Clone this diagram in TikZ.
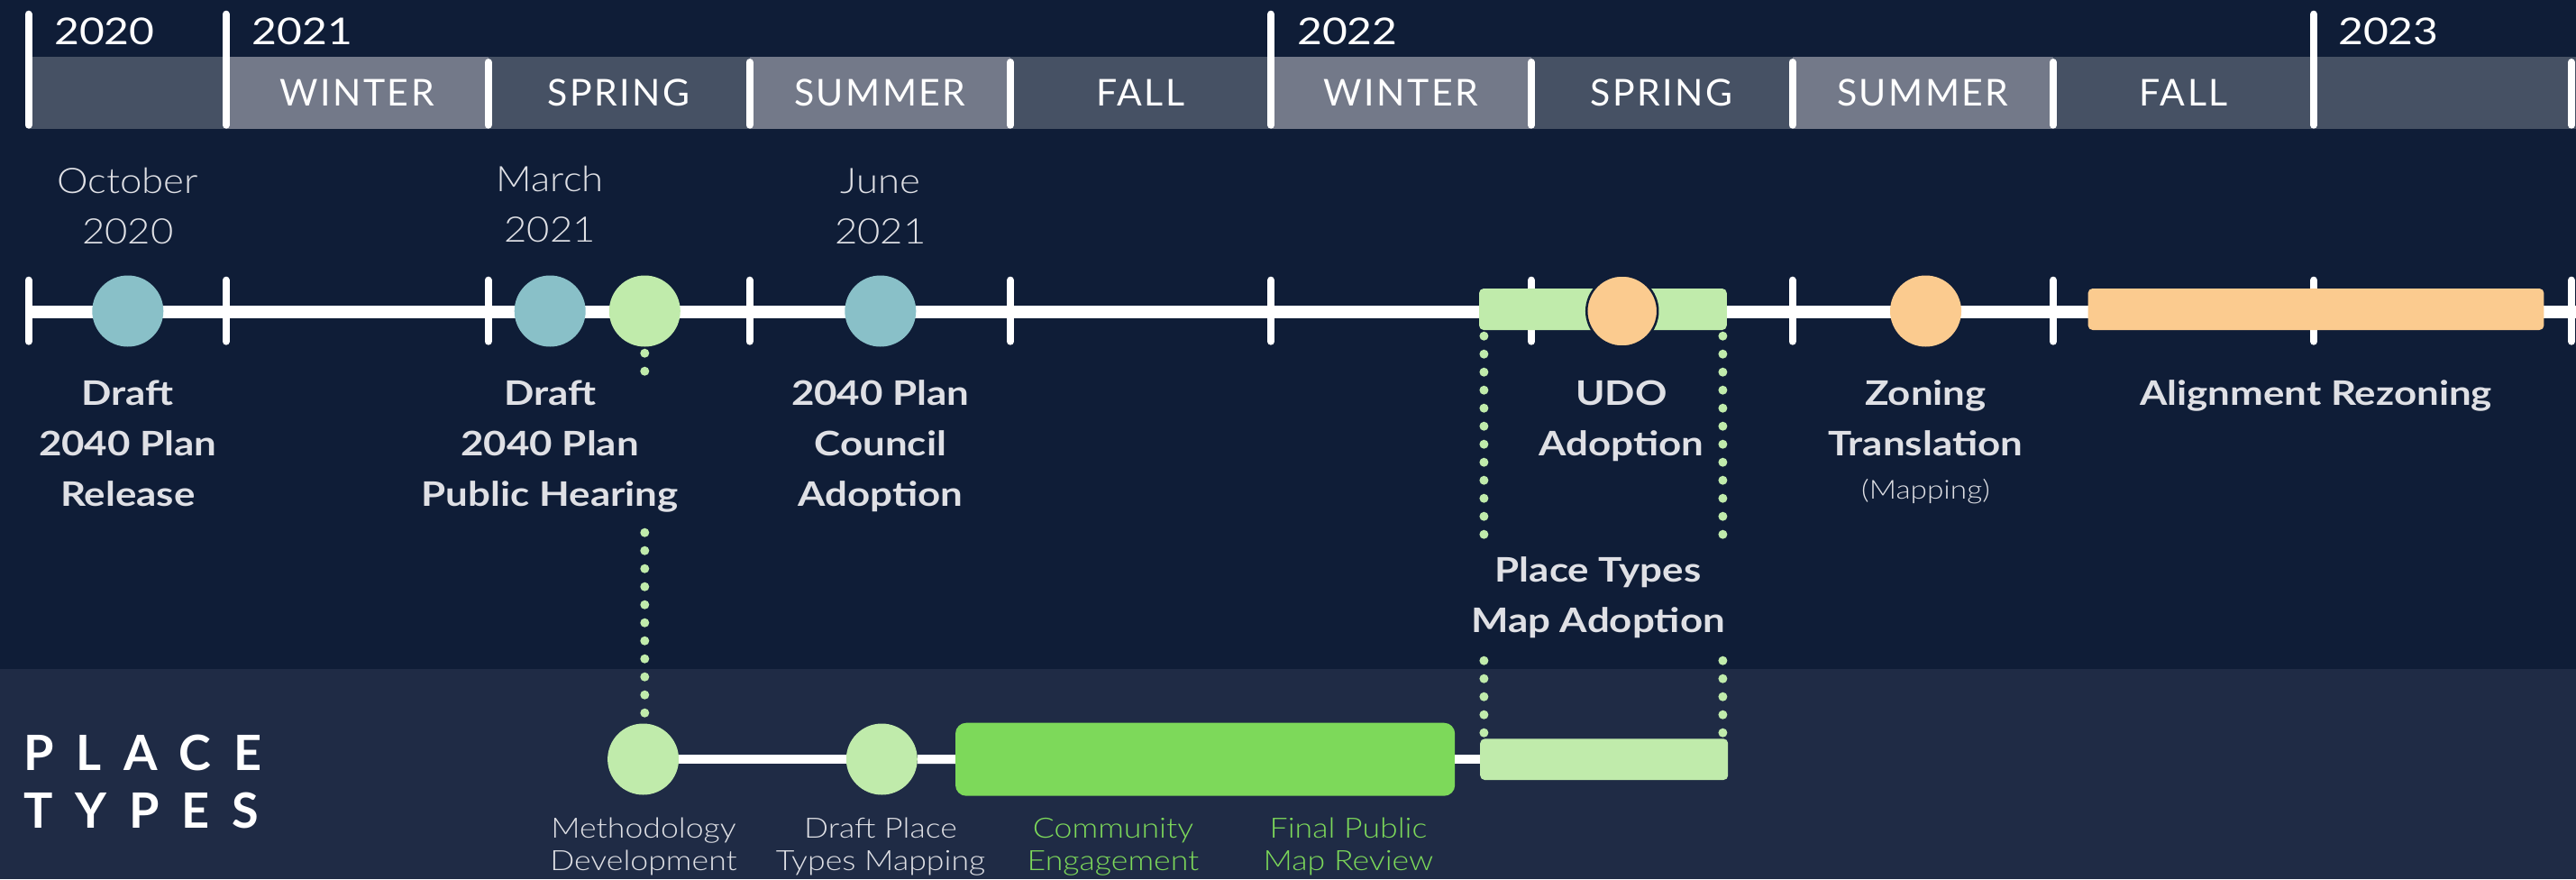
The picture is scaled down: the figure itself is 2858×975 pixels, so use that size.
\documentclass[tikz,border=0pt]{standalone}
\usepackage{fontspec}
\setmainfont{Lato}
\newfontfamily\latobold[FakeStretch=1.17]{Lato}
\newfontfamily\latoyear[FakeStretch=1.17]{Lato}
\newfontfamily\latolight[FakeStretch=1.12]{Lato Light}
\newfontfamily\latolightb[FakeStretch=1.15]{Lato Light}
\newfontfamily\latospaced[LetterSpace=6]{Lato}
\newfontfamily\latoheavy[LetterSpace=46]{Lato}
\definecolor{bgnavy}{HTML}{0F1D37}
\definecolor{bandc}{HTML}{1F2B45}
\definecolor{seglight}{HTML}{737989}
\definecolor{segdark}{HTML}{465164}
\definecolor{tealc}{HTML}{89C0C8}
\definecolor{lgreen}{HTML}{C0EBAB}
\definecolor{orangec}{HTML}{FBCB8F}
\definecolor{bgreen}{HTML}{7DD95A}
\definecolor{labelc}{HTML}{DFE0E5}
\newcommand\fbold{\latobold\fontsize{37.5}{45}\selectfont\bfseries}
\newcommand\fdate{\latolight\fontsize{39}{45}\selectfont}
\newcommand\fyear{\latoyear\fontsize{41}{45}\selectfont}
\newcommand\fseason{\latospaced\fontsize{41}{45}\selectfont}
\newcommand\fsmall{\latolightb\fontsize{31}{36}\selectfont}
\newcommand\fmap{\latolightb\fontsize{29}{32}\selectfont}
\newcommand\fplace{\latoheavy\bfseries\fontsize{54}{60}\selectfont}
\begin{document}
\begin{tikzpicture}[x=1pt,y=-1pt,
  yeartick/.style={draw=white,line width=8,line cap=round},
  axisline/.style={draw=white,line width=14},
  subline/.style={draw=white,line width=10},
  dotline/.style={draw=lgreen,line width=10,line cap=round,dash pattern=on 0pt off 20pt},
  season/.style={font=\fseason,text=white,anchor=base,inner sep=0},
  yearlbl/.style={font=\fyear,text=white,anchor=base west,inner sep=0},
  datelbl/.style={font=\fdate,text=labelc,anchor=base,inner sep=0},
  evlbl/.style={font=\fbold,text=labelc,anchor=base,inner sep=0},
  maplbl/.style={font=\fmap,text=labelc,anchor=base,inner sep=0},
  smalllbl/.style={font=\fsmall,text=labelc,anchor=base,inner sep=0},
  greenlbl/.style={font=\fsmall,text=bgreen,anchor=base,inner sep=0},
  placelbl/.style={font=\fplace,text=white,anchor=base west,inner sep=0},
  dotc/.style={circle,minimum size=79,inner sep=0,draw=none},
  barbox/.style={rectangle,inner sep=0,rounded corners=5,draw=none}]
\fill[bgnavy] (0,0) rectangle (2858,975);
\useasboundingbox (0,0) rectangle (2858,975);
\fill[bandc] (0,741.7) rectangle (2858,975);
% season bar
\foreach \a/\b/\col/\txt [count=\i] in {31.6/250.8/segdark/, 250.8/541.5/seglight/WINTER, 541.5/831.5/segdark/SPRING, 831.5/1121/seglight/SUMMER, 1121/1410/segdark/FALL, 1410/1699/seglight/WINTER, 1699/1988.5/segdark/SPRING, 1988.5/2278/seglight/SUMMER, 2278/2567/segdark/FALL, 2567/2858/segdark/}
  {\fill[\col] (\a,63.3) rectangle (\b,142.7);
   \node[season] (season\i) at ({(\a+\b)/2},117) {\txt};}
\foreach \x in {31.6,250.8,1410,2567}
  {\draw[yeartick] (\x,15.7) -- (\x,138.7);}
\foreach \x in {541.5,831.5,1121,1699,1988.5,2278,2853}
  {\draw[yeartick] (\x,69) -- (\x,138.7);}
\node[yearlbl] (y2020) at (60,49.5) {2020};
\node[yearlbl] (y2021) at (279.5,49.5) {2021};
\node[yearlbl] (y2022) at (1439,49.5) {2022};
\node[yearlbl] (y2023) at (2594,49.5) {2023};
% main axis
\draw[axisline] (31.6,345.5) -- (2858,345.5);
\foreach \x in {31.6,250.8,541.5,831.5,1121,1410,1699,1988.5,2278,2567,2853}
  {\draw[yeartick] (\x,310.7) -- (\x,378.7);}
% dates
\node[datelbl] (d1a) at (141.8,214) {October};
\node[datelbl] (d1b) at (141.8,270) {2020};
\node[datelbl] (d2a) at (610.2,212) {March};
\node[datelbl] (d2b) at (610.2,268) {2021};
\node[datelbl] (d3a) at (976.8,214) {June};
\node[datelbl] (d3b) at (976.8,270) {2021};
% milestones on axis
\node[dotc,fill=tealc] (oct) at (141.8,345) {};
\node[dotc,fill=tealc] (mar) at (610.2,345) {};
\node[dotc,fill=lgreen] (hear) at (715.3,345) {};
\node[dotc,fill=tealc] (jun) at (976.8,345) {};
\node[barbox,fill=lgreen,minimum width=274.7,minimum height=46] (udobox) at (1778.4,343) {};
\node[dotc,fill=orangec,draw=bgnavy,line width=2.5] (udo) at (1799.7,345) {};
\node[dotc,fill=orangec] (zon) at (2136.5,345) {};
\node[barbox,fill=orangec,minimum width=505.8,minimum height=46] (align) at (2569.5,343) {};
% event labels
\node[evlbl] (e1a) at (141.8,449.5) {Draft};
\node[evlbl] (e1b) at (141.8,505.5) {2040 Plan};
\node[evlbl] (e1c) at (141.8,561.5) {Release};
\node[evlbl] (e2a) at (610.2,449.5) {Draft};
\node[evlbl] (e2b) at (610.2,505.5) {2040 Plan};
\node[evlbl] (e2c) at (610.2,561.5) {Public Hearing};
\node[evlbl] (e3a) at (976.8,449.5) {2040 Plan};
\node[evlbl] (e3b) at (976.8,505.5) {Council};
\node[evlbl] (e3c) at (976.8,561.5) {Adoption};
\node[evlbl] (e4a) at (1799,449.5) {UDO};
\node[evlbl] (e4b) at (1799,505.5) {Adoption};
\node[evlbl] (e5a) at (2136.5,449.5) {Zoning};
\node[evlbl] (e5b) at (2136.5,505.5) {Translation};
\node[maplbl] (e5c) at (2136.5,553.3) {(Mapping)};
\node[evlbl] (e6a) at (2569.5,449.5) {Alignment Rezoning};
\node[evlbl] (e7a) at (1773,645) {Place Types};
\node[evlbl] (e7b) at (1773,701) {Map Adoption};
% place types track
\node[placelbl] (pl1) at (26,854) {PLACE};
\node[placelbl] (pl2) at (26,918.3) {TYPES};
\node[dotc,fill=lgreen] (meth) at (713.6,842) {};
\node[dotc,fill=lgreen] (dpt) at (978.3,842) {};
\node[barbox,fill=bgreen,rounded corners=12,minimum width=554.2,minimum height=81] (comm) at (1337.1,842.2) {};
\node[barbox,fill=lgreen,minimum width=275,minimum height=45.7] (ptmap) at (1779.7,842.2) {};
\draw[subline] (meth.east) -- (dpt.west);
\draw[subline] (dpt.east) -- (comm.west);
\draw[subline] (comm.east) -- (ptmap.west);
\node[smalllbl] (m1) at (714,929.5) {Methodology};
\node[smalllbl] (m2) at (714,965) {Development};
\node[smalllbl] (p1) at (977,929.5) {Draft Place};
\node[smalllbl] (p2) at (977,965) {Types Mapping};
\node[greenlbl] (c1) at (1235,929.5) {Community};
\node[greenlbl] (c2) at (1235,965) {Engagement};
\node[greenlbl] (f1) at (1496,929.5) {Final Public};
\node[greenlbl] (f2) at (1496,965) {Map Review};
% dotted links
\coordinate (h1) at (715.3,391.7);
\coordinate (h2) at (715.3,412.2);
\coordinate (h3) at (715.3,590.7);
\coordinate (h4) at (715.3,791.2);
\draw[dotline] (h1) -- (h2);
\draw[dotline] (h3) -- (h4);
\coordinate (ua1) at (1646.4,372.7);
\coordinate (ua2) at (1646.4,593.2);
\coordinate (ua3) at (1646.4,732.7);
\coordinate (ua4) at (1646.4,813.2);
\coordinate (ub1) at (1911.4,372.7);
\coordinate (ub2) at (1911.4,593.2);
\coordinate (ub3) at (1911.4,732.7);
\coordinate (ub4) at (1911.4,813.2);
\draw[dotline] (ua1) -- (ua2);
\draw[dotline] (ua3) -- (ua4);
\draw[dotline] (ub1) -- (ub2);
\draw[dotline] (ub3) -- (ub4);
\end{tikzpicture}
\end{document}
